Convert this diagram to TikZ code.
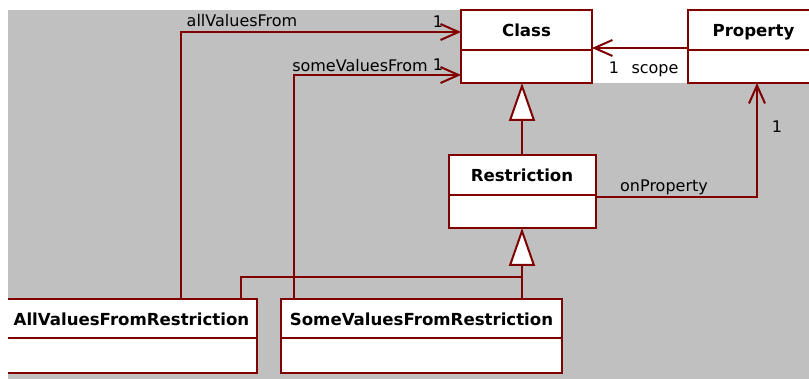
\documentclass[tikz,border=0pt]{standalone}
\usepackage{fontspec}
\setmainfont{DejaVu Sans}
\usetikzlibrary{positioning,arrows.meta}
\definecolor{umlred}{RGB}{128,0,0}
\definecolor{bggray}{RGB}{192,192,192}
\tikzset{
  umlhead/.style={draw=umlred, fill=white, line width=2pt, inner sep=0pt, outer sep=0pt,
    text height=14pt, text depth=0pt, font=\fontsize{16.6}{19}\selectfont\bfseries},
  umlbody/.style={draw=umlred, fill=white, line width=2pt, inner sep=0pt, outer sep=0pt},
  assoc/.style={draw=umlred, line width=2pt, -{Straight Barb[length=18pt,width=16pt]}},
  gen/.style={draw=umlred, line width=2pt, -{Triangle[length=38pt,width=26pt,fill=white]}},
  plain/.style={draw=umlred, line width=2pt},
  lbl/.style={inner sep=0pt, anchor=base, font=\fontsize{16}{19}\selectfont},
}
\begin{document}
\begin{tikzpicture}[x=1pt,y=-1pt]
\useasboundingbox (0,0) rectangle (809,379);
\begin{scope}
\clip (8,9) rectangle (809,379);
\fill[bggray] (8,10) rectangle (809,379);
\fill[white] (592,10) rectangle (688,83);

% classes
\node[umlhead, minimum width=131, minimum height=40] (class) at (526.5,30) {Class};
\node[umlbody, minimum width=131, minimum height=33, below=0pt of class] (classb) {};
\node[umlhead, minimum width=131, minimum height=40] (property) at (753.5,30) {Property};
\node[umlbody, minimum width=131, minimum height=33, below=0pt of property] (propertyb) {};
\node[umlhead, minimum width=147, minimum height=40] (restr) at (522,175) {Restriction};
\node[umlbody, minimum width=147, minimum height=33, below=0pt of restr] (restrb) {};
\node[umlhead, minimum width=251, minimum height=39] (allv) at (131.5,318.5) {AllValuesFromRestriction};
\node[umlbody, minimum width=251, minimum height=35, below=0pt of allv] (allvb) {};
\node[umlhead, minimum width=281, minimum height=39] (somev) at (421.5,318.5) {SomeValuesFromRestriction};
\node[umlbody, minimum width=281, minimum height=35, below=0pt of somev] (somevb) {};

% associations
\coordinate (allbend) at (181,32);
\coordinate (somebend) at (294,75);
\coordinate (scopey) at (0,48);
\coordinate (onbend) at (757,197);
\draw[assoc] (allv.north -| allbend) |- (class.west |- allbend);
\draw[assoc] (somev.north -| somebend) |- (classb.west |- somebend);
\draw[assoc] (property.west |- scopey) -- (class.east |- scopey);
\draw[assoc] (restr.east |- onbend) -| (propertyb.south -| onbend);

% generalizations
\coordinate (genjoin) at (241,277);
\draw[gen] (restr.north) -- (restr.north |- classb.south);
\draw[plain] (allv.north -| genjoin) |- (restrb.south |- genjoin);
\draw[gen] (somev.north -| restrb.south) -- (restrb.south);

% labels
\node[lbl] (allvlbl) at (242,27) {allValuesFrom};
\node[lbl] (allvmult) at (438,28) {1};
\node[lbl] (somevlbl) at (360,72) {someValuesFrom};
\node[lbl] (somevmult) at (438,71) {1};
\node[lbl] (scopemult) at (614,74) {1};
\node[lbl] (scopelbl) at (655,74) {scope};
\node[lbl] (onproplbl) at (664,192) {onProperty};
\node[lbl] (onpropmult) at (777,133) {1};
\end{scope}
\end{tikzpicture}
\end{document}
